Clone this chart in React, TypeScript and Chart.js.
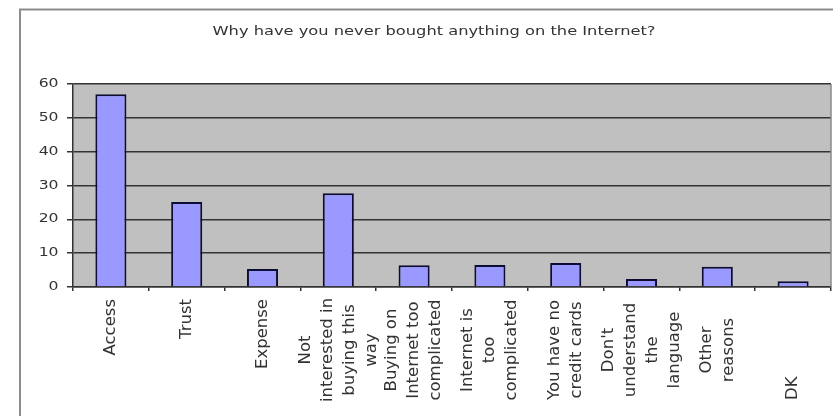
import React, { useEffect, useRef } from "react";
import { Chart, registerables } from "chart.js";

Chart.register(...registerables);

const TITLE = "Why have you never bought anything on the Internet?";
const CATEGORIES: string[][] = [
  ["Access"],
  ["Trust"],
  ["Expense"],
  ["Not", "interested in", "buying this", "way"],
  ["Buying on", "Internet too", "complicated"],
  ["Internet is", "too", "complicated"],
  ["You have no", "credit cards"],
  ["Don't", "understand", "the", "language"],
  ["Other", "reasons"],
  ["DK"],
];
const VALUES = [57, 25.1, 5.3, 27.7, 6.4, 6.5, 7.1, 2.4, 6.0, 1.7];
const Y_TICKS = [0, 10, 20, 30, 40, 50, 60];

// label anchoring inside the label band (layout only)
const LABEL_ANCHOR = ["start", "start", "start", "center", "center", "center", "center", "center", "center", "end"];

const FONT = '"DejaVu Sans", Verdana, sans-serif';
const TEXT = "#333333";

const decor = {
  id: "decor",
  beforeDraw(chart: any) {
    const { ctx, chartArea: a } = chart;
    ctx.save();
    ctx.fillStyle = "#ffffff";
    ctx.fillRect(0, 0, chart.width, chart.height);
    ctx.strokeStyle = "#8c8c8c";
    ctx.lineWidth = 2;
    ctx.strokeRect(20, 9.5, 900, 500);
    ctx.fillStyle = "#c0c0c0";
    ctx.fillRect(a.left, a.top, a.right - a.left, a.bottom - a.top);
    // title
    ctx.translate(434, 34.5);
    ctx.scale(1.25, 1);
    ctx.font = `13px ${FONT}`;
    ctx.fillStyle = TEXT;
    ctx.textAlign = "center";
    ctx.textBaseline = "alphabetic";
    ctx.fillText(TITLE, 0, 0);
    ctx.restore();
  },
  afterDraw(chart: any) {
    const { ctx, chartArea: a } = chart;
    const xs = chart.scales.x;
    const ys = chart.scales.y;
    ctx.save();
    // right edge of plot
    ctx.strokeStyle = "#8a8a8a";
    ctx.lineWidth = 1.5;
    ctx.beginPath();
    ctx.moveTo(a.right, a.top);
    ctx.lineTo(a.right, a.bottom);
    ctx.stroke();
    // y labels
    ctx.fillStyle = TEXT;
    Y_TICKS.forEach((v) => {
      const y = ys.getPixelForValue(v);
      ctx.save();
      ctx.translate(a.left - 14.5, y);
      ctx.scale(1.3, 1);
      ctx.font = `12px ${FONT}`;
      ctx.textAlign = "right";
      ctx.textBaseline = "middle";
      ctx.fillText(String(v), 0, 0);
      ctx.restore();
    });
    // x labels
    ctx.font = `16.5px ${FONT}`;
    const bandTop = a.bottom + 12;
    const bandBottom = a.bottom + 113;
    const bandMid = a.bottom + 63;
    CATEGORIES.forEach((lines, i) => {
      const cx = xs.getPixelForValue(i);
      const maxW = Math.max(...lines.map((l) => ctx.measureText(l).width));
      let cy = bandMid;
      if (LABEL_ANCHOR[i] === "start") cy = bandTop + maxW / 2;
      else if (LABEL_ANCHOR[i] === "end") cy = bandBottom - maxW / 2;
      const n = lines.length;
      lines.forEach((line, j) => {
        const x = cx + (j - (n - 1) / 2) * 22;
        ctx.save();
        ctx.translate(x, cy);
        ctx.rotate(-Math.PI / 2);
        ctx.textAlign = "center";
        ctx.textBaseline = "middle";
        ctx.fillText(line, 0, 0);
        ctx.restore();
      });
    });
    ctx.restore();
  },
};

export default function App() {
  const ref = useRef<HTMLCanvasElement | null>(null);
  useEffect(() => {
    if (!ref.current) return;
    const chart = new Chart(ref.current, {
      type: "bar",
      data: {
        labels: CATEGORIES.map((l) => l.join(" ")),
        datasets: [
          {
            data: VALUES,
            backgroundColor: "#9999ff",
            borderColor: "#0d0d33",
            borderWidth: 2,
            barPercentage: 0.41,
            categoryPercentage: 1,
          },
        ],
      },
      options: {
        animation: false,
        responsive: false,
        maintainAspectRatio: false,
        layout: { padding: { top: 84, right: 2, left: 0, bottom: 0 } },
        plugins: { legend: { display: false }, title: { display: false }, tooltip: { enabled: false } },
        scales: {
          x: {
            offset: true,
            grid: { display: true, drawOnChartArea: false, drawTicks: true, tickLength: 4, color: "#333333", lineWidth: 1.5, offset: true },
            border: { display: true, color: "#333333", width: 1.5 },
            ticks: { display: false },
            afterFit: (s: any) => {
              s.height = 416 - 287;
            },
          },
          y: {
            min: 0,
            max: 60,
            ticks: { display: false, stepSize: 10 },
            grid: { color: "#333333", lineWidth: 1.5, tickLength: 6, drawTicks: true },
            border: { display: true, color: "#333333", width: 1.5 },
            afterFit: (s: any) => {
              s.width = 73;
            },
          },
        },
      },
      plugins: [decor],
    });
    return () => chart.destroy();
  }, []);
  return (
    <div style={{ position: "fixed", left: 0, top: 0, width: 833, height: 416, background: "#fff" }}>
      <canvas ref={ref} width={833} height={416} style={{ display: "block", width: 833, height: 416 }} />
    </div>
  );
}
